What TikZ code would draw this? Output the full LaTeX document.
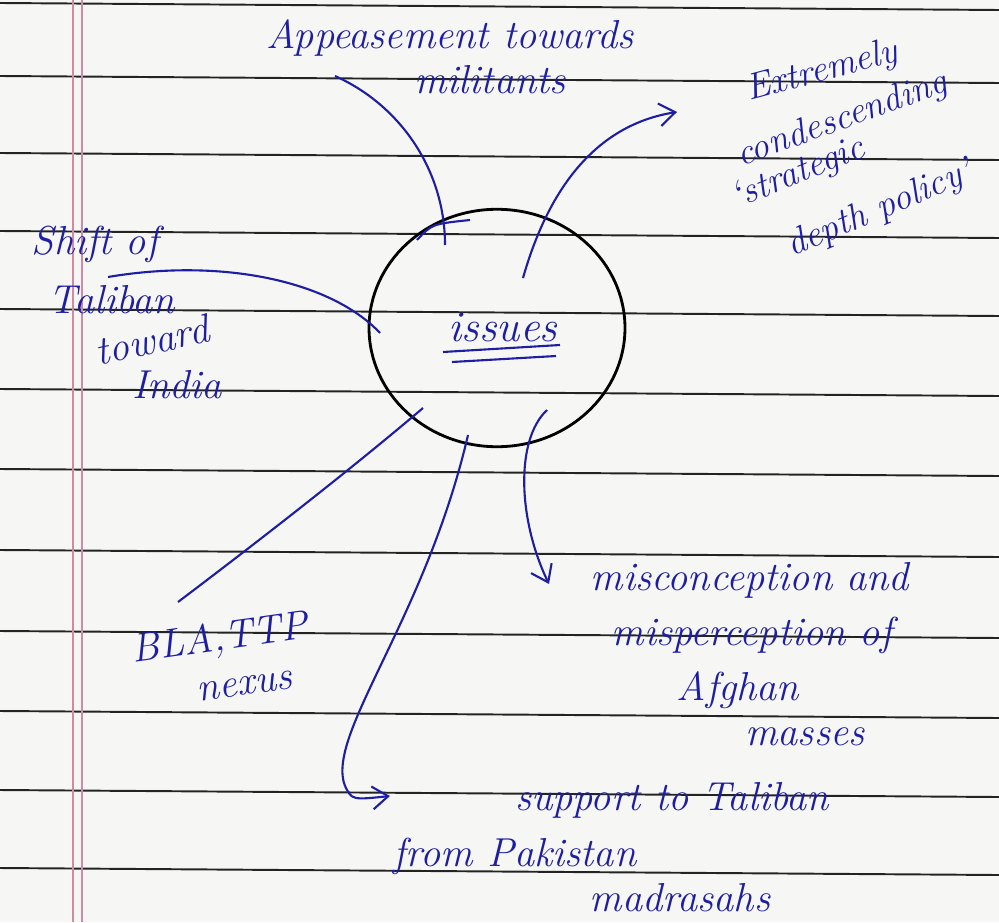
\documentclass[tikz,border=0pt]{standalone}
\usetikzlibrary{shapes.geometric,arrows.meta}
\definecolor{ink}{RGB}{30,30,165}
\definecolor{ruleink}{RGB}{35,35,35}
\definecolor{marginink}{RGB}{205,140,165}
\definecolor{paper}{RGB}{246,246,244}
\begin{document}
\begin{tikzpicture}[x=0.02cm,y=-0.02cm,
  lbl/.style={text=ink,font=\itshape\fontsize{23}{26}\selectfont,inner sep=0pt,anchor=center},
  slbl/.style={lbl,font=\itshape\fontsize{21}{24}\selectfont},
  conn/.style={ink,line width=1.2pt},
  tip/.style={-{Straight Barb[length=9pt,width=13pt,line width=1.2pt]}},
  ruling/.style={ruleink,line width=1.1pt},
  marginline/.style={marginink,line width=1.3pt},
  hub/.style={ellipse,draw=black,line width=1.6pt,minimum width=5.12cm,minimum height=4.75cm,inner sep=0pt}]
\useasboundingbox (0,0) rectangle (999,922);
\fill[paper] (0,0) rectangle (999,922);
% ruled lines
\foreach \yy in {3,76,153,231,309,389,469,550,631,711,790,868}
  \draw[ruling] (0,\yy) -- (999,\yy+7);
% margin
\draw[marginline] (73,0) -- (73,922);
\draw[marginline] (82,0) -- (82,922);

% central node
\node[hub] (iss) at (497,328) {};
\node[lbl,font=\itshape\fontsize{25}{28}\selectfont] (isstext) at (503,327) {issues};
\draw[conn] (443,352) -- (560,345);
\draw[conn] (452,362) -- (556,356);

% labels
\node[lbl] (app1) at (450,38) {Appeasement towards};
\node[lbl] (app2) at (490,80) {militants};

\node[slbl,rotate=15] (ext1) at (822,72) {Extremely};
\node[slbl,rotate=20] (ext2) at (842,120) {condescending};
\node[slbl,rotate=22] (ext3) at (798,174) {`strategic};
\node[slbl,rotate=23] (ext4) at (880,210) {depth policy'};

\node[lbl] (sh1) at (95,244) {Shift of};
\node[lbl] (sh2) at (112,300) {Taliban};
\node[lbl,rotate=12] (sh3) at (152,340) {toward};
\node[lbl] (sh4) at (177,385) {India};

\node[lbl,rotate=8] (bla1) at (220,640) {BLA,TTP};
\node[lbl,rotate=8] (bla2) at (245,686) {nexus};

\node[lbl] (mis1) at (750,580) {misconception and};
\node[lbl] (mis2) at (752,635) {misperception of};
\node[lbl] (mis3) at (738,690) {Afghan};
\node[lbl] (mis4) at (805,737) {masses};

\node[lbl] (sup1) at (672,800) {support to Taliban};
\node[lbl] (sup2) at (515,856) {from Pakistan};
\node[lbl] (sup3) at (680,898) {madrasahs};

% connector end points
\coordinate (a1) at (335,76);
\coordinate (a2) at (445,245);
\coordinate (e1) at (523,278);
\coordinate (e2) at (677,112);
\coordinate (s1) at (108,277);
\coordinate (s2) at (380,333);
\coordinate (b1) at (178,602);
\coordinate (b2) at (423,408);
\coordinate (p1) at (468,435);
\coordinate (p2) at (345,786);
\coordinate (p3) at (390,796);
\coordinate (m1) at (547,410);
\coordinate (m2) at (549,584);

% connectors
\draw[conn] (a1) .. controls (400,105) and (445,170) .. (a2);
\draw[conn] (417,240) .. controls (432,224) .. (470,220);
\draw[conn,tip] (e1) .. controls (548,190) and (595,125) .. (e2);
\draw[conn] (s1) .. controls (220,258) and (330,280) .. (s2);
\draw[conn] (b1) .. controls (260,540) and (350,470) .. (b2);
\draw[conn] (p1) .. controls (425,620) and (325,735) .. (p2);
\draw[conn,tip] (p2) .. controls (352,800) .. (p3);
\draw[conn,tip] (m1) .. controls (515,440) and (518,520) .. (m2);
\end{tikzpicture}
\end{document}
